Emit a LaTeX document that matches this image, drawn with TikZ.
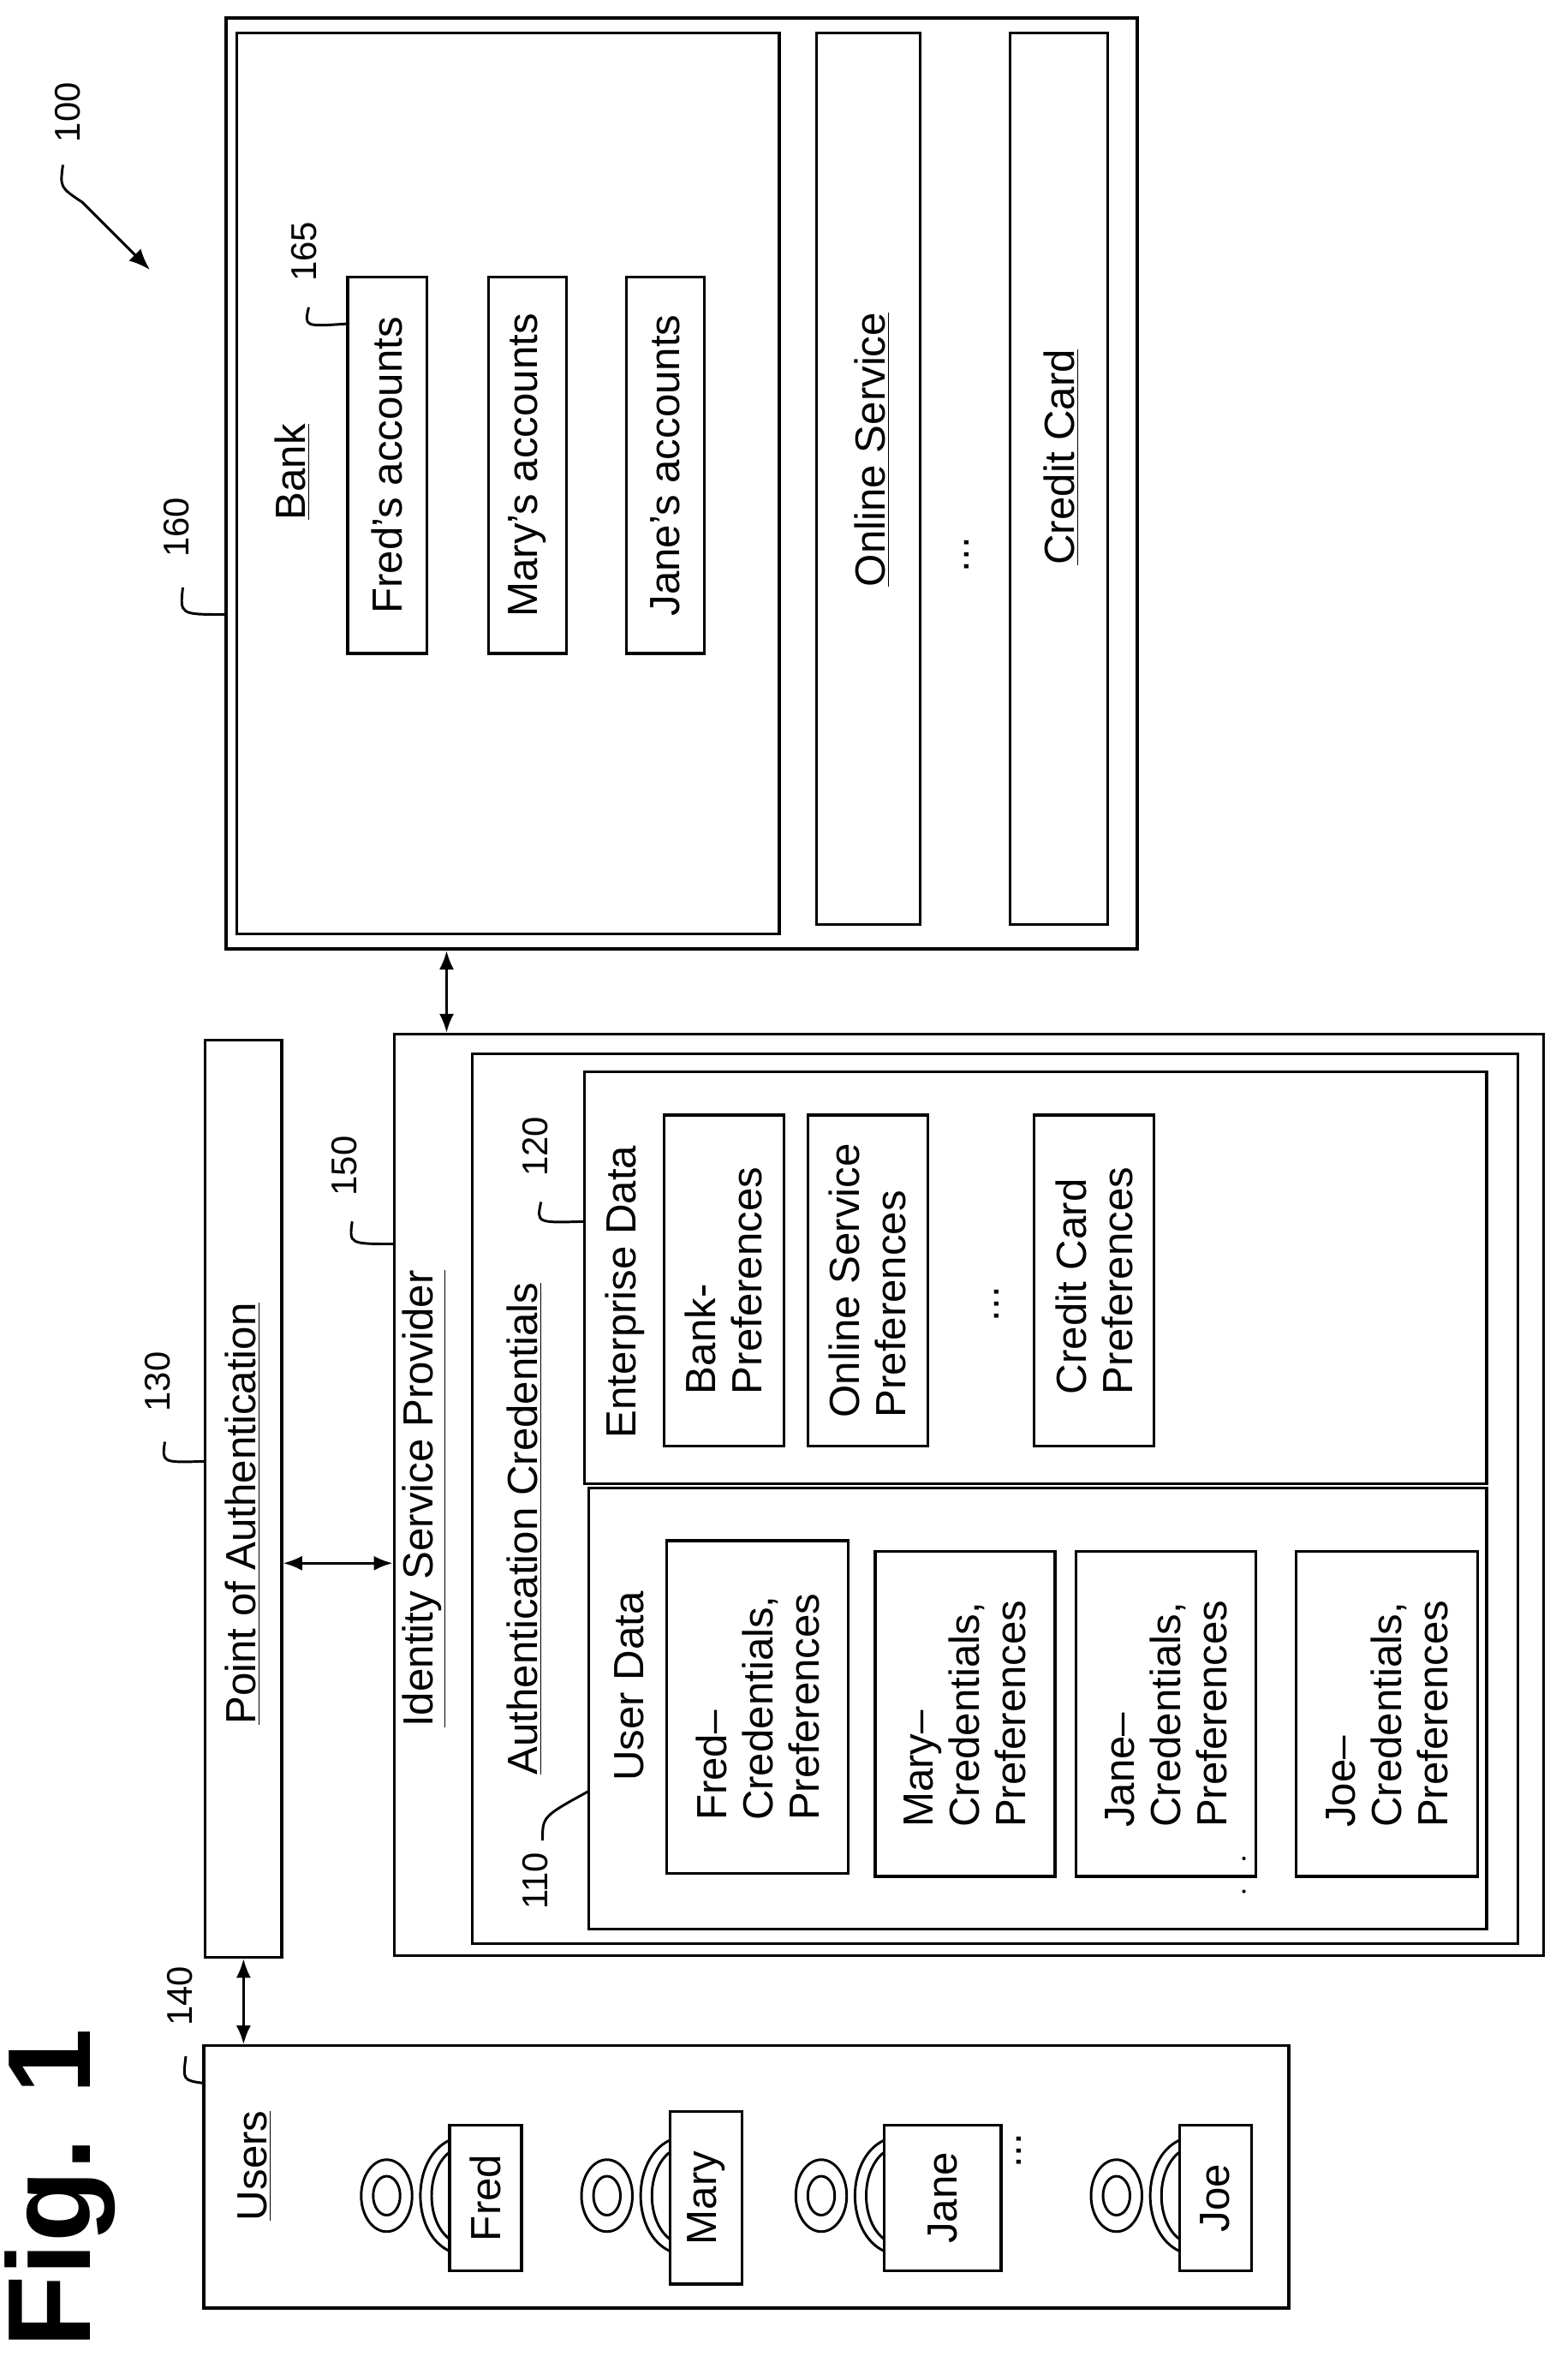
\documentclass[tikz,border=0pt]{standalone}
\usepackage{fontspec}
\setmainfont{Liberation Sans}
\usetikzlibrary{fit,arrows.meta}

\begin{document}
\begin{tikzpicture}[x=0.025cm,y=-0.025cm,
    box/.style={draw, line width=1.3pt, inner sep=0pt},
    tbox/.style={draw, line width=1.3pt, rotate=90, inner sep=2pt, align=left,
      font=\fontsize{20}{22}\selectfont},
    lbl/.style={rotate=90, inner sep=0pt, align=left, font=\fontsize{20}{22}\selectfont},
    num/.style={rotate=90, inner sep=0pt, font=\fontsize{17}{20}\selectfont},
    dbl/.style={{Latex[length=9pt,width=7pt]}-{Latex[length=9pt,width=7pt]}, line width=1.3pt},
    hook/.style={line width=1.2pt}]
	\useasboundingbox (0,0) rectangle (1046,1572);

	% containers
	\node[box, line width=1.8pt, fit={(151,12) (759,633)}] (svc) {};
	\node[box, fit={(158,22) (520,623)}] (bank) {};
	\node[box, fit={(545,22) (614,617)}] (online) {};
	\node[box, fit={(674,22) (739,617)}] (card) {};
	\node[box, fit={(137,694) (188,1306)}] (poa) {};
	\node[box, fit={(263,690) (1030,1305)}] (isp) {};
	\node[box, fit={(315,703) (1013,1297)}] (auth) {};
	\node[box, fit={(390,715) (992,990)}] (ent) {};
	\node[box, fit={(393,993) (992,1287)}] (udata) {};
	\node[box, fit={(136,1365) (860,1540)}] (users) {};

	% titles
	\node[lbl] (tbank) at (195,315) {\underline{Bank}};
	\node[lbl] (tonline) at (582,300) {\underline{Online Service}};
	\node[lbl] (tcard) at (708,305) {\underline{Credit Card}};
	\node[lbl] at (645,370) {...};
	\node[lbl] (tpoa) at (162,1010) {\underline{Point of Authentication}};
	\node[lbl] (tisp) at (283,1000) {\underline{Identity Service Provider}};
	\node[lbl] (tauth) at (350,1020) {\underline{Authentication Credentials}};
	\node[lbl] (tent) at (417,862) {Enterprise Data};
	\node[lbl] (tud) at (420,1125) {User Data};
	\node[lbl] (tusers) at (170,1445) {\underline{Users}};
	\node[rotate=90, inner sep=0pt, font=\fontsize{56}{60}\bfseries] (fig) at (40,1460) {Fig. 1};

	% accounts
	\node[tbox, minimum width=251*0.025cm, minimum height=53*0.025cm] (fred) at (258.5,310.5) {Fred’s accounts};
	\node[tbox, minimum width=251*0.025cm, minimum height=52*0.025cm] (mary) at (352,310.5) {Mary’s accounts};
	\node[tbox, minimum width=251*0.025cm, minimum height=52*0.025cm] (jane) at (444,310.5) {Jane’s accounts};

	% enterprise preferences
	\node[tbox, minimum width=221*0.025cm, minimum height=80*0.025cm] (bpref) at (483,854.5) {Bank-\\Preferences};
	\node[tbox, minimum width=221*0.025cm, minimum height=80*0.025cm] (opref) at (579,854.5) {Online Service\\Preferences};
	\node[lbl] at (665,870) {...};
	\node[tbox, minimum width=221*0.025cm, minimum height=80*0.025cm] (cpref) at (730,854.5) {Credit Card\\Preferences};

	% user data
	\node[tbox, minimum width=222*0.025cm, minimum height=121*0.025cm] (fcred) at (505.5,1139) {Fred–\\Credentials,\\Preferences};
	\node[tbox, minimum width=217*0.025cm, minimum height=120*0.025cm] (mcred) at (644,1143.5) {Mary–\\Credentials,\\Preferences};
	\node[tbox, minimum width=217*0.025cm, minimum height=120*0.025cm] (jcred) at (778,1143.5) {Jane–\\Credentials,\\Preferences};
	\node[tbox, minimum width=217*0.025cm, minimum height=121*0.025cm] (ocred) at (925.5,1143.5) {Joe–\\Credentials,\\Preferences};
	\fill (830,1240) circle (1.2);
	\fill (830,1262) circle (1.2);

	% users
	\foreach \nm/\px/\bw/\bl in {Fred/300/48/97, Mary/447/48/115, Jane/590/78/97, Joe/787/48/97}{
		\draw[line width=1.2pt] (\px-42,1465) ellipse (17 and 24);
		\draw[line width=1.2pt] (\px-42,1465) ellipse (9 and 13);
		\draw[line width=1.2pt] (\px,1428) .. controls (\px-26,1440) and (\px-26,1490) .. (\px,1502);
		\draw[line width=1.2pt] (\px,1436) .. controls (\px-16,1448) and (\px-16,1482) .. (\px,1494);
		\node[tbox, fill=white, minimum width=\bl*0.025cm, minimum height=\bw*0.025cm] (u\nm) at (\px+\bw/2,1466.5) {\nm};
	}
	\node[lbl] at (680,1435) {...};

	% connectors
	\coordinate (a1) at (0,1043);
	\coordinate (a2) at (298,0);
	\draw[dbl] (poa.south) -- (poa.south |- users.north);
	\draw[dbl] (poa.east |- a1) -- (isp.west |- a1);
	\draw[dbl] (isp.north -| a2) -- (svc.south -| a2);

	% reference numerals
	\node[num] (n100) at (45,75) {100};
	\draw[hook, -{Latex[length=10pt,width=8pt]}] (42,110) .. controls (40,125) .. (55,135) -- (100,180);
	\node[num] (n160) at (118,352) {160};
	\draw[hook] (122,392) .. controls (120,410) .. (150,410);
	\node[num] (n165) at (203,168) {165};
	\draw[hook] (206,205) .. controls (203,218) .. (232,216);
	\node[num] (n130) at (105,922) {130};
	\draw[hook] (110,962) .. controls (108,976) .. (137,975);
	\node[num] (n150) at (230,778) {150};
	\draw[hook] (235,815) .. controls (233,830) .. (263,830);
	\node[num] (n120) at (357,765) {120};
	\draw[hook] (361,802) .. controls (358,816) .. (390,815);
	\node[num] (n110) at (357,1255) {110};
	\draw[hook] (362,1228) .. controls (362,1212) .. (393,1195);
	\node[num] (n140) at (120,1332) {140};
	\draw[hook] (124,1372) .. controls (122,1388) .. (136,1390);
\end{tikzpicture}
\end{document}
